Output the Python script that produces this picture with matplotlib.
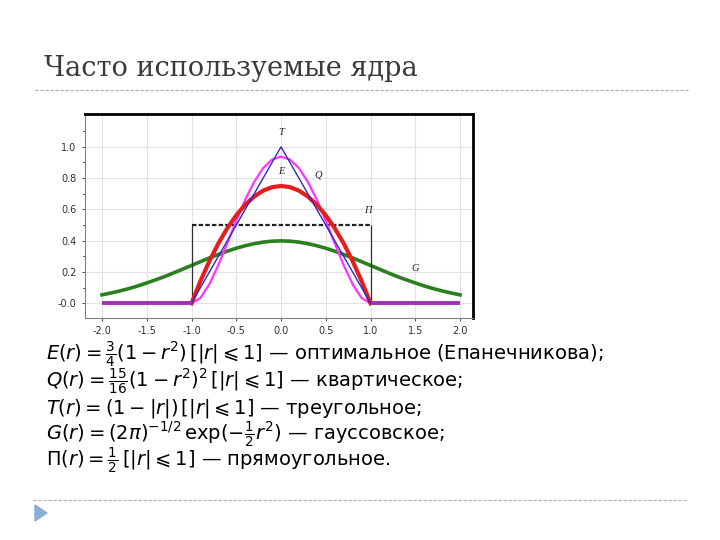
import matplotlib
matplotlib.use("Agg")
import matplotlib.pyplot as plt
from matplotlib.lines import Line2D
from matplotlib.patches import Polygon

# sample points
r_all = [-2.0, -1.9, -1.8, -1.7, -1.6, -1.5, -1.4, -1.3, -1.2, -1.1, -1.0,
         -0.9, -0.8, -0.7, -0.6, -0.5, -0.4, -0.3, -0.2, -0.1, 0.0,
         0.1, 0.2, 0.3, 0.4, 0.5, 0.6, 0.7, 0.8, 0.9, 1.0,
         1.1, 1.2, 1.3, 1.4, 1.5, 1.6, 1.7, 1.8, 1.9, 2.0]
r_in = [-1.0, -0.9, -0.8, -0.7, -0.6, -0.5, -0.4, -0.3, -0.2, -0.1, 0.0,
        0.1, 0.2, 0.3, 0.4, 0.5, 0.6, 0.7, 0.8, 0.9, 1.0]

g_vals = [0.054, 0.066, 0.079, 0.094, 0.111, 0.130, 0.150, 0.171, 0.194, 0.218, 0.242,
          0.266, 0.290, 0.312, 0.333, 0.352, 0.368, 0.381, 0.391, 0.397, 0.399,
          0.397, 0.391, 0.381, 0.368, 0.352, 0.333, 0.312, 0.290, 0.266, 0.242,
          0.218, 0.194, 0.171, 0.150, 0.130, 0.111, 0.094, 0.079, 0.066, 0.054]
e_vals = [0.0, 0.1425, 0.27, 0.3825, 0.48, 0.5625, 0.63, 0.6825, 0.72, 0.7425, 0.75,
          0.7425, 0.72, 0.6825, 0.63, 0.5625, 0.48, 0.3825, 0.27, 0.1425, 0.0]
q_vals = [0.0, 0.034, 0.122, 0.244, 0.384, 0.527, 0.662, 0.776, 0.864, 0.919, 0.9375,
          0.919, 0.864, 0.776, 0.662, 0.527, 0.384, 0.244, 0.122, 0.034, 0.0]
t_vals = [0.0, 0.1, 0.2, 0.3, 0.4, 0.5, 0.6, 0.7, 0.8, 0.9, 1.0,
          0.9, 0.8, 0.7, 0.6, 0.5, 0.4, 0.3, 0.2, 0.1, 0.0]
p_x = [-1.0, 1.0]
p_vals = [0.5, 0.5]
base_left = [-2.0, -1.0]
base_right = [1.0, 2.0]

x_ticks = [-2.0, -1.5, -1.0, -0.5, 0.0, 0.5, 1.0, 1.5, 2.0]
x_labels = ['-2.0', '-1.5', '-1.0', '-0.5', '0.0', '0.5', '1.0', '1.5', '2.0']
y_ticks = [0.0, 0.2, 0.4, 0.6, 0.8, 1.0]
y_labels = ['-0.0', '0.2', '0.4', '0.6', '0.8', '1.0']

curve_names = ['T', 'E', 'Q', 'П', 'G']
name_pos = [(0.0, 1.09), (0.0, 0.84), (0.41, 0.82), (0.97, 0.59), (1.5, 0.22)]

formulas = [
    r'$E(r)=\frac{3}{4}(1-r^2)\,\left[|r|\leqslant 1\right]$ — оптимальное (Епанечникова);',
    r'$Q(r)=\frac{15}{16}(1-r^2)^2\,\left[|r|\leqslant 1\right]$ — квартическое;',
    r'$T(r)=(1-|r|)\,\left[|r|\leqslant 1\right]$ — треугольное;',
    r'$G(r)=(2\pi)^{-1/2}\,\exp(-\frac{1}{2}r^2)$ — гауссовское;',
    r'$\Pi(r)=\frac{1}{2}\,\left[|r|\leqslant 1\right]$ — прямоугольное.',
]

W, H = 720, 540
fig = plt.figure(figsize=(7.2, 5.4), dpi=100)


def fx(px):
    return px / W


def fy(py):
    return 1 - py / H


# slide title and rules
fig.text(fx(44), fy(76), 'Часто используемые ядра', family='DejaVu Serif',
         fontsize=19.5, color='#3a3a3a', va='baseline')
fig.add_artist(Line2D([fx(35), fx(688)], [fy(90), fy(90)], color='#b0b0b0',
                      lw=0.8, ls=(0, (3, 1.5))))
fig.add_artist(Line2D([fx(33), fx(688)], [fy(500), fy(500)], color='#b0b0b0',
                      lw=0.8, ls=(0, (3, 1.5))))
fig.add_artist(Polygon([[fx(35), fy(505)], [fx(35), fy(521)], [fx(47), fy(513)]],
                       closed=True, color='#8aaed6', transform=fig.transFigure))

# chart
ax = fig.add_axes([fx(85), fy(318), fx(473) - fx(85), fy(114) - fy(318)])
ax.set_xlim(-2.19, 2.145)
ax.set_ylim(-0.094, 1.21)
ax.grid(True, color='#e2e2e2', lw=0.8)
ax.set_axisbelow(True)

ax.plot(r_all, g_vals, color='#2b7f1e', lw=2.6)
ax.plot(p_x, p_vals, color='#202020', lw=1.6, ls=(0, (2, 1)))
ax.vlines(p_x, 0, 0.5, color='#303030', lw=0.9)
ax.plot(r_in, q_vals, color='#ff33ff', lw=1.6)
ax.plot(r_in, e_vals, color='#e51d1d', lw=3.0)
ax.plot(r_in, t_vals, color='#2b2bc8', lw=1.0)
ax.plot(base_left, [0, 0], color='#a030b8', lw=2.8, solid_capstyle='butt')
ax.plot(base_right, [0, 0], color='#a030b8', lw=2.8, solid_capstyle='butt')

for name, (nx, ny) in zip(curve_names, name_pos):
    ax.text(nx, ny, name, family='Liberation Serif', style='italic',
            fontsize=7.5, ha='center', va='center', color='#202020')

ax.set_xticks(x_ticks)
ax.set_xticklabels(x_labels)
ax.set_yticks(y_ticks)
ax.set_yticklabels(y_labels)
ax.set_yticks([0.1, 0.3, 0.5, 0.7, 0.9, 1.1], minor=True)
ax.tick_params(labelsize=7, colors='#303030', length=2.5, width=0.6)
ax.tick_params(which='minor', length=1.5, width=0.6)
for side in ['left', 'bottom']:
    ax.spines[side].set_color('#808080')
    ax.spines[side].set_linewidth(0.8)
for side in ['top', 'right']:
    ax.spines[side].set_color('black')
    ax.spines[side].set_linewidth(2.0)

# kernel formulas
line_y = [360, 387, 413, 440, 466]
for text, py in zip(formulas, line_y):
    fig.text(fx(46), fy(py), text, fontsize=14, color='black', va='baseline',
             family='DejaVu Sans')

fig.savefig('out.png', dpi=100)
